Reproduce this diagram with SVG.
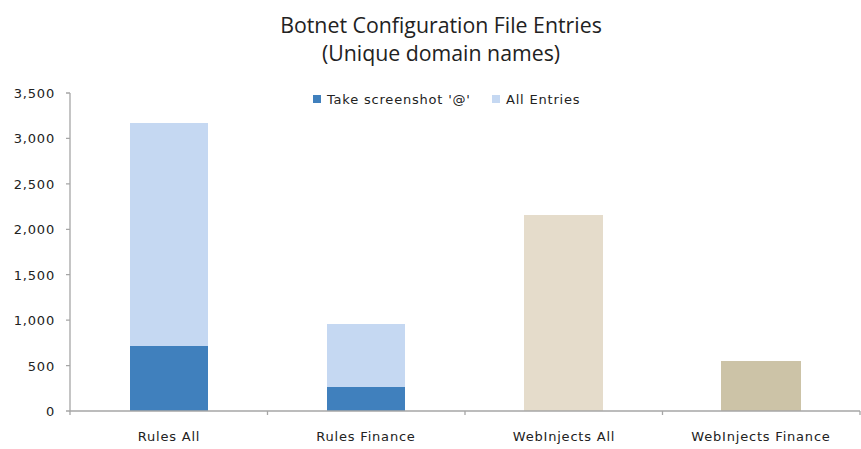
<svg xmlns="http://www.w3.org/2000/svg" width="861" height="449" viewBox="0 0 861 449">
  <style>
    .title { font-family: "Open Sans", "Liberation Sans", sans-serif; font-size: 21.3px; fill: #222; text-anchor: middle; }
    .lbl { font-family: "DejaVu Sans", "Liberation Sans", sans-serif; font-size: 13px; letter-spacing: 0.8px; fill: #222; }
    .tick { text-anchor: end; }
    .cat { text-anchor: middle; }
    .axis { stroke: #a6a6a6; stroke-width: 1.3; fill: none; }
    .shot { fill: #4080bd; }
    .all { fill: #c5d8f2; }
    .wi-all { fill: #e5dccb; }
    .wi-fin { fill: #ccc3a7; }
  </style>

  <!-- chart title -->
  <g id="title">
    <text class="title" x="441" y="33">Botnet Configuration File Entries</text>
    <text class="title" x="441" y="61">(Unique domain names)</text>
  </g>

  <!-- legend -->
  <g id="legend">
    <rect class="shot" x="313" y="95" width="8" height="8"/>
    <text class="lbl" x="327" y="104">Take screenshot '@'</text>
    <rect class="all" x="492" y="95" width="8" height="8"/>
    <text class="lbl" x="506" y="104">All Entries</text>
  </g>

  <!-- bars: 0 at y=411, 3500 at y=93 -->
  <g id="bar-rules-all">
    <rect class="all" x="130" y="123" width="78" height="288"/>
    <rect class="shot" x="130" y="346" width="78" height="65"/>
  </g>
  <g id="bar-rules-finance">
    <rect class="all" x="327" y="324" width="78" height="87"/>
    <rect class="shot" x="327" y="387" width="78" height="24"/>
  </g>
  <g id="bar-webinjects-all">
    <rect class="wi-all" x="524" y="215" width="79" height="196"/>
  </g>
  <g id="bar-webinjects-finance">
    <rect class="wi-fin" x="721" y="361" width="80" height="50"/>
  </g>

  <!-- axes -->
  <g id="axes">
    <path class="axis" d="M70 93 V411 H860"/>
    <path class="axis" d="M66 93 H70 M66 138.4 H70 M66 183.9 H70 M66 229.3 H70 M66 274.7 H70 M66 320.1 H70 M66 365.6 H70 M66 411 H70"/>
    <path class="axis" d="M70 411 V415 M267.5 411 V415 M465 411 V415 M662.5 411 V415 M860 411 V415"/>
  </g>

  <!-- value labels -->
  <g id="y-labels">
    <text class="lbl tick" x="55" y="98">3,500</text>
    <text class="lbl tick" x="55" y="143.4">3,000</text>
    <text class="lbl tick" x="55" y="188.9">2,500</text>
    <text class="lbl tick" x="55" y="234.3">2,000</text>
    <text class="lbl tick" x="55" y="279.7">1,500</text>
    <text class="lbl tick" x="55" y="325.1">1,000</text>
    <text class="lbl tick" x="55" y="370.6">500</text>
    <text class="lbl tick" x="55" y="416">0</text>
  </g>

  <!-- category labels -->
  <g id="x-labels">
    <text class="lbl cat" x="169" y="441">Rules All</text>
    <text class="lbl cat" x="366" y="441">Rules Finance</text>
    <text class="lbl cat" x="564" y="441">WebInjects All</text>
    <text class="lbl cat" x="761" y="441">WebInjects Finance</text>
  </g>
</svg>
